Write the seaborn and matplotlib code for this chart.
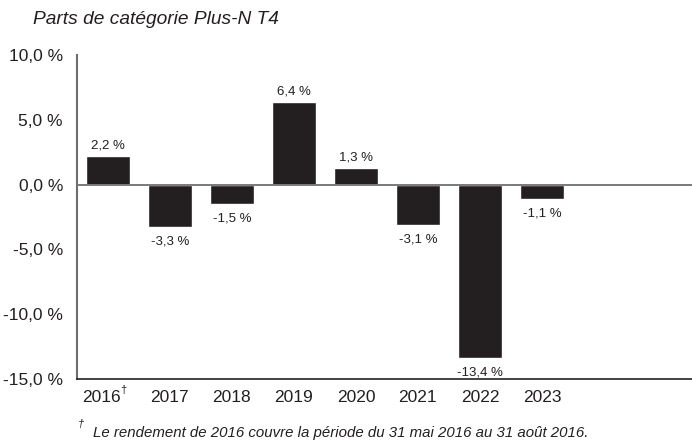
import matplotlib
matplotlib.use("Agg")
import matplotlib.pyplot as plt
import matplotlib.transforms as mtransforms
from matplotlib.ticker import FuncFormatter, FixedLocator
import seaborn as sns
import pandas as pd

# values
years = ['2016', '2017', '2018', '2019', '2020', '2021', '2022', '2023']
returns = [2.2, -3.3, -1.5, 6.4, 1.3, -3.1, -13.4, -1.1]
y_ticks = [10, 5, 0, -5, -10, -15]

title = 'Parts de catégorie Plus-N T4'
footnote = 'Le rendement de 2016 couvre la période du 31 mai 2016 au 31 août 2016.'

df = pd.DataFrame({'year': years, 'ret': returns})

sns.set_style('white')
plt.rcParams['font.family'] = ['Liberation Sans', 'DejaVu Sans']

ink = '#231f20'

fig = plt.figure(figsize=(6.92, 4.42), dpi=100)
ax = fig.add_axes([0.111, 0.1425, 0.889, 0.733])

sns.barplot(data=df, x='year', y='ret', order=years, color=ink, width=0.71,
            saturation=1, ax=ax)

ax.set_xlim(-0.5, 9.42)
ax.set_ylim(-15, 10)
ax.axhline(0, color='#7a7a7a', lw=1.4, zorder=3)

ax.yaxis.set_major_locator(FixedLocator(y_ticks))
ax.yaxis.set_major_formatter(FuncFormatter(lambda v, p: f'{v:.1f} %'.replace('.', ',')))
ax.set_xticks(range(len(years)))
ax.set_xticklabels(years)
ax.tick_params(axis='y', length=0, pad=10, labelsize=12.5, labelcolor=ink)
ax.tick_params(axis='x', length=0, pad=8, labelsize=12.5, labelcolor=ink)
ax.set_xlabel('')
ax.set_ylabel('')

# first year label sits a bit left to leave room for the dagger
first = ax.get_xticklabels()[0]
first.set_transform(first.get_transform() +
                    mtransforms.ScaledTranslation(-6 / 100, 0, fig.dpi_scale_trans))
ax.annotate('\u2020', xy=(0, 0), xycoords=('data', 'axes fraction'),
            xytext=(8.6, -8), textcoords='offset points', fontsize=8,
            color=ink, ha='left', va='center')

for s in ['top', 'right']:
    ax.spines[s].set_visible(False)
ax.spines['left'].set_color('#6d6d6d')
ax.spines['left'].set_linewidth(1.5)
ax.spines['bottom'].set_color('#222222')
ax.spines['bottom'].set_linewidth(1.2)

bars = ax.containers[0]
pos_labels = [f'{v:.1f} %'.replace('.', ',') if v >= 0 else '' for v in returns]
neg_labels = [f'{v:.1f} %'.replace('.', ',') if v < 0 else '' for v in returns]
ax.bar_label(bars, labels=pos_labels, padding=3, fontsize=9.5, color=ink)
ax.bar_label(bars, labels=neg_labels, padding=6, fontsize=9.5, color=ink)

fig.text(0.048, 0.955, title, fontsize=13.8, style='italic', color=ink,
         ha='left', va='center')
fig.text(0.113, 0.03, '\u2020', fontsize=8, style='italic', color=ink,
         ha='left', va='bottom')
fig.text(0.135, 0.02, footnote, fontsize=10.85, style='italic', color=ink,
         ha='left', va='center')

fig.savefig('out.png', dpi=100)
